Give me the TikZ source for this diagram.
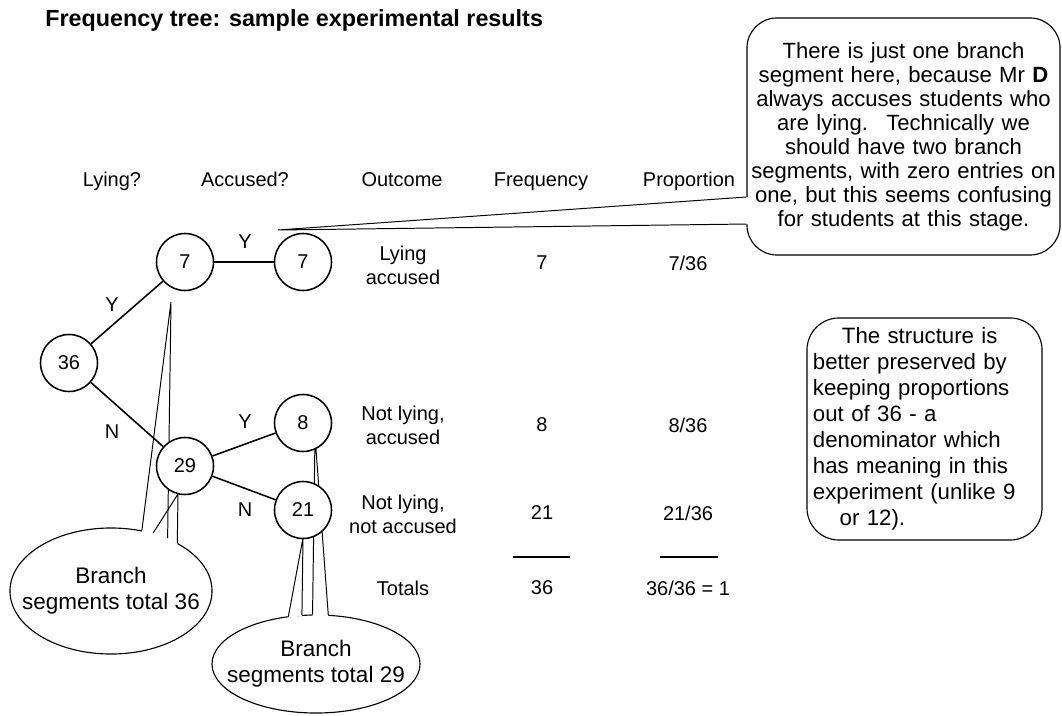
\documentclass[tikz,border=0pt]{standalone}
\usepackage{fontspec}
\setmainfont{Liberation Sans}
\usetikzlibrary{shapes.geometric}

\begin{document}
\begin{tikzpicture}[x=0.025cm,y=-0.025cm,
    count/.style={circle,draw,fill=white,line width=1.1pt,minimum size=1.425cm,inner sep=0pt,font=\fontsize{14.2}{17}\selectfont},
    lbl/.style={font=\fontsize{14.2}{17}\selectfont},
    cell/.style={align=center,font=\fontsize{14.2}{17}\selectfont},
    hdr/.style={cell,anchor=base},
    bubble/.style={ellipse,draw,line width=0.8pt,align=center,inner sep=0pt,font=\fontsize{16}{18.5}\selectfont},
    callout/.style={draw,rounded corners=0.75cm,line width=0.8pt,inner sep=0pt},
    ptr/.style={line width=0.7pt}]
  \useasboundingbox (0,0) rectangle (1062,715);

  \node[anchor=base west,inner sep=0pt,font=\bfseries\fontsize{16.6}{19}\selectfont] (title) at (45,27) {Frequency tree: sample experimental results};

  \node[callout,text width=7.825cm,minimum height=5.925cm,align=center,font=\fontsize{15.7}{17.1}\selectfont] (note) at (903.5,136.5)
    {There is just one branch\\ segment here, because Mr \textbf{D}\\ always accuses students who\\ are lying.~ Technically we\\ should have two branch\\ segments, with zero entries on\\ one, but this seems confusing\\ for students at this stage.};
  \node[callout,rounded corners=0.8cm,text width=5.575cm,inner xsep=0.15cm,minimum height=5.55cm,align=left,font=\fontsize{15.8}{18.5}\selectfont] (struct) at (924.5,429)
    {\hspace*{20.6pt}The structure is\\ better preserved by\\ keeping proportions\\ out of 36 - a\\ denominator which\\ has meaning in this\\ experiment (unlike 9\\ \hspace*{19pt}or 12).};

  \node[bubble,minimum width=5.05cm,minimum height=3.15cm] (e1) at (111,591) {\makebox[0pt]{Branch}\\\makebox[0pt]{segments total 36}};
  \node[bubble,minimum width=5.2cm,minimum height=2.45cm] (e2) at (316,664) {\makebox[0pt]{Branch}\\\makebox[0pt]{segments total 29}};

  \coordinate (tipnote) at (278,230);
  \coordinate (tip7) at (171,302);
  \coordinate (tip29) at (178,494);
  \coordinate (tip8) at (315,436);
  \coordinate (tip21) at (303,538);

  \fill[white] ([xshift=1pt,yshift=-1.5125cm]note.west) -- (tipnote) -- ([xshift=1pt,yshift=-2.1875cm]note.west) -- cycle;
  \fill[white] ([yshift=-1pt]e1.63.8) -- (tip7) -- ([yshift=-1pt]e1.43.4) -- cycle;
  \fill[white] ([yshift=-1pt]e1.54.1) -- (tip29) -- ([yshift=-1pt]e1.36.6) -- cycle;
  \fill[white] ([yshift=-1pt]e2.120.8) -- (tip21) -- ([yshift=-1pt]e2.106.6) -- cycle;
  \fill[white] ([yshift=-1pt]e2.94.9) -- (tip8) -- ([yshift=-1pt]e2.76.8) -- cycle;
  \begin{scope}[ptr]
    \draw ([yshift=-1.5125cm]note.west) -- (tipnote) -- ([yshift=-2.1875cm]note.west);
    \draw (e1.63.8) -- (tip7) -- (e1.43.4);
    \draw (e1.54.1) -- (tip29) -- (e1.36.6);
    \draw (e2.120.8) -- (tip21) -- (e2.106.6);
    \draw (e2.94.9) -- (tip8) -- (e2.76.8);
  \end{scope}

  \draw
    (69,363) node[count] (n36) {36}
    (185,262) node[count] (n7) {7}
    (303,262) node[count] (n7b) {7}
    (185,466) node[count] (n29) {29}
    (303,423) node[count] (n8) {8}
    (303,510) node[count] (n21) {21};
  \begin{scope}[line width=1.1pt]
    \draw (n36) to (n7);
    \draw (n36) to (n29);
    \draw (n7) to (n7b);
    \draw (n29) to (n8);
    \draw (n29) to (n21);
  \end{scope}

  \node[lbl] (y1) at (112,305) {Y};
  \node[lbl] (n1) at (112,432) {N};
  \node[lbl] (y2) at (245,242) {Y};
  \node[lbl] (y3) at (245,422) {Y};
  \node[lbl] (n2) at (245,510) {N};

  \node[hdr] (hlying) at (112,187) {Lying?};
  \node[hdr] (hacc) at (245,187) {Accused?};
  \node[hdr] (hout) at (402,187) {Outcome};
  \node[hdr] (hfreq) at (541,187) {Frequency};
  \node[hdr] (hprop) at (689,187) {Proportion};

  \node[cell] (out1) at (403,265) {Lying\\accused};
  \node[cell] (freq1) at (542,263) {7};
  \node[cell] (prop1) at (688,263) {7/36};
  \node[cell] (out2) at (403,425) {Not lying,\\accused};
  \node[cell] (freq2) at (542,425) {8};
  \node[cell] (prop2) at (688,425) {8/36};
  \node[cell] (out3) at (403,514) {Not lying,\\not accused};
  \node[cell] (freq3) at (542,513) {21};
  \node[cell] (prop3) at (688,513) {21/36};
  \node[cell] (tot) at (403,588) {Totals};
  \node[cell] (freqtot) at (542,588) {36};
  \node[cell] (proptot) at (688,588) {36/36 = 1};

  \draw[line width=1.3pt] (513,557) -- (570,557);
  \draw[line width=1.3pt] (660,557) -- (718,557);
\end{tikzpicture}
\end{document}
